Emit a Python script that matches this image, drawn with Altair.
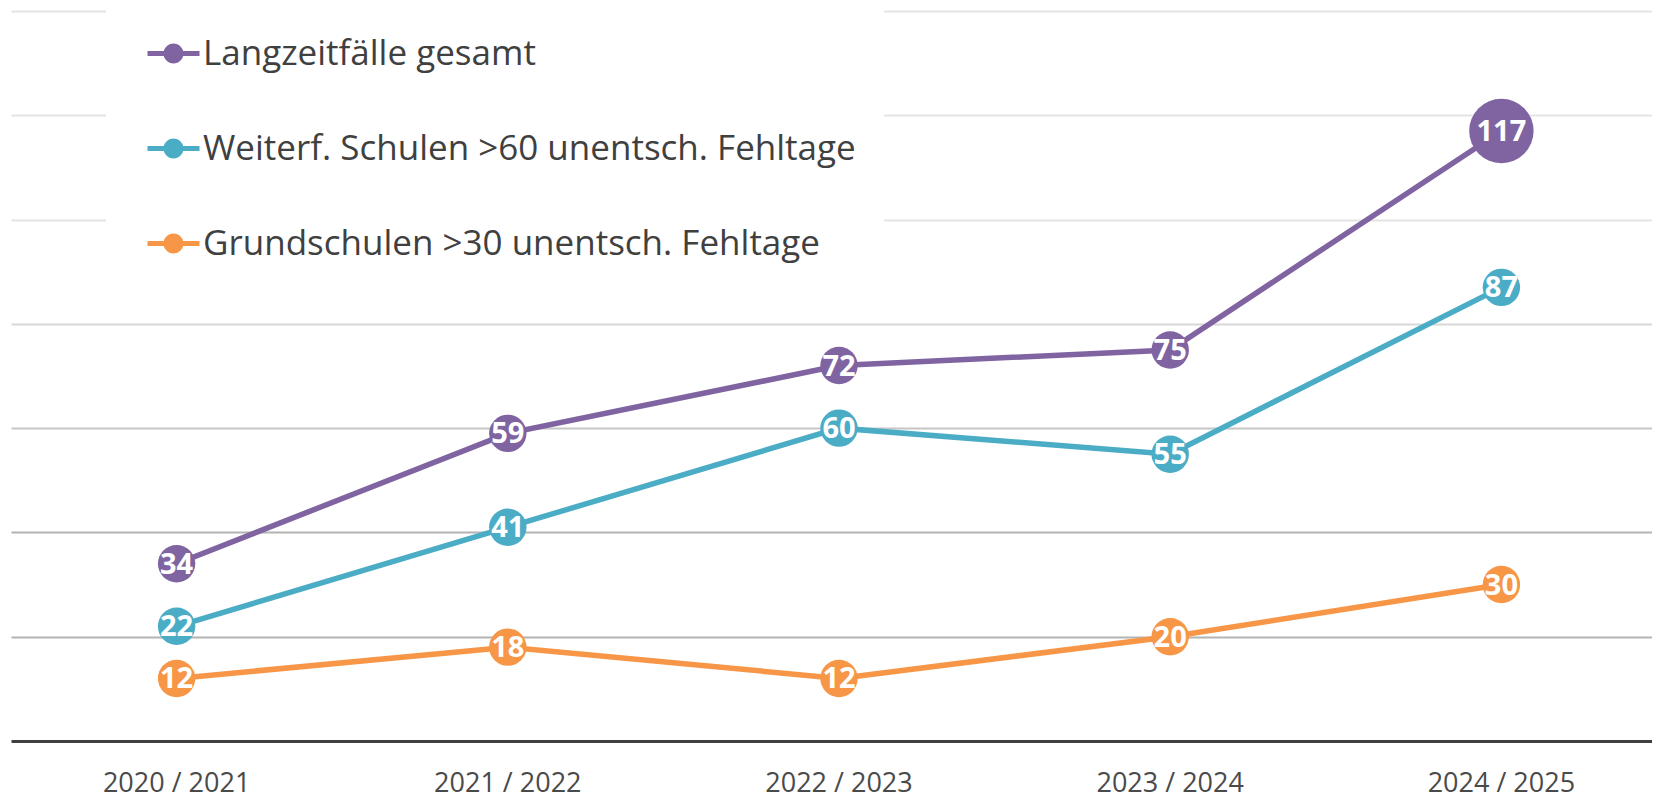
import altair as alt
import pandas as pd

years = ["2020 / 2021", "2021 / 2022", "2022 / 2023", "2023 / 2024", "2024 / 2025"]
series = [
    "Langzeitfälle gesamt",
    "Weiterf. Schulen >60 unentsch. Fehltage",
    "Grundschulen >30 unentsch. Fehltage",
]
langzeit = [34, 59, 72, 75, 117]
weiterf = [22, 41, 60, 55, 87]
grund = [12, 18, 12, 20, 30]
colors = ["#8064A2", "#4BACC6", "#F79646"]
grid_values = [0, 20, 40, 60, 80, 100, 120, 140]

rows = []
for name, vals in zip(series, [langzeit, weiterf, grund]):
    for yr, v in zip(years, vals):
        rows.append({"Jahr": yr, "Reihe": name, "Wert": v})
df = pd.DataFrame(rows)

FONT = "Open Sans"

x = alt.X(
    "Jahr:N",
    sort=years,
    scale=alt.Scale(type="band", paddingInner=0, paddingOuter=0, range=[0, 1656]),
    axis=alt.Axis(
        title=None, labelAngle=0, ticks=False, grid=False, domain=False,
        labelFont=FONT, labelFontSize=27, labelColor="#4a4a4a", labelPadding=29,
    ),
)
y = alt.Y(
    "Wert:Q",
    scale=alt.Scale(domain=[0, 140], nice=False, zero=True),
    axis=alt.Axis(
        title=None, labels=False, ticks=False, domain=False,
        values=grid_values,
        gridWidth={
            "condition": {"test": "datum.value == 0", "value": 3},
            "value": 2,
        },
        gridColor={
            "condition": [
                {"test": "datum.value == 0", "value": "#404040"},
                {"test": "datum.value <= 40", "value": "#b3b3b3"},
                {"test": "datum.value <= 60", "value": "#c6c6c6"},
                {"test": "datum.value <= 80", "value": "#d8d8d8"},
            ],
            "value": "#e4e4e4",
        },
    ),
)

symbol_path = (
    "M-2.6,-0.25H2.6V0.25H-2.6Z "
    "M1,0A1,1 0 1,1 -1,0A1,1 0 1,1 1,0Z"
)

lines = alt.Chart(df).mark_line(strokeWidth=5.5).encode(
    x=x, y=y,
    stroke=alt.Stroke("Reihe:N", sort=series, scale=alt.Scale(range=colors), legend=None),
)

points = alt.Chart(df).mark_point(filled=True, opacity=1, shape="circle", strokeWidth=0).encode(
    x=x, y=y,
    fill=alt.Fill(
        "Reihe:N", scale=alt.Scale(domain=series, range=colors),
        legend=alt.Legend(
            title=None, orient="none", legendX=95, legendY=-3,
            fillColor="white", padding=28, rowPadding=59,
            symbolType=symbol_path, symbolSize=400, symbolStrokeWidth=0,
            symbolOpacity=1, symbolOffset=22, labelOffset=12,
            labelFont=FONT, labelFontSize=35, labelColor="#404040",
            labelLimit=0, direction="vertical",
        ),
    ),
    size=alt.condition("datum.Wert >= 100", alt.value(4150), alt.value(1400)),
)

labels = alt.Chart(df).mark_text(
    font=FONT, fontWeight="bold", fontSize=29, color="white",
    align="center", baseline="middle", dy=1,
).encode(x=x, y=y, text="Wert:Q")

chart = alt.layer(lines, points, labels).properties(
    width=1641, height=730,
    autosize=alt.AutoSizeParams(type="none"),
    padding={"left": 3, "top": 3, "right": 0, "bottom": 58},
).configure_view(stroke=None)

chart.save("out.html", embed_options={"renderer": "svg", "actions": False})
